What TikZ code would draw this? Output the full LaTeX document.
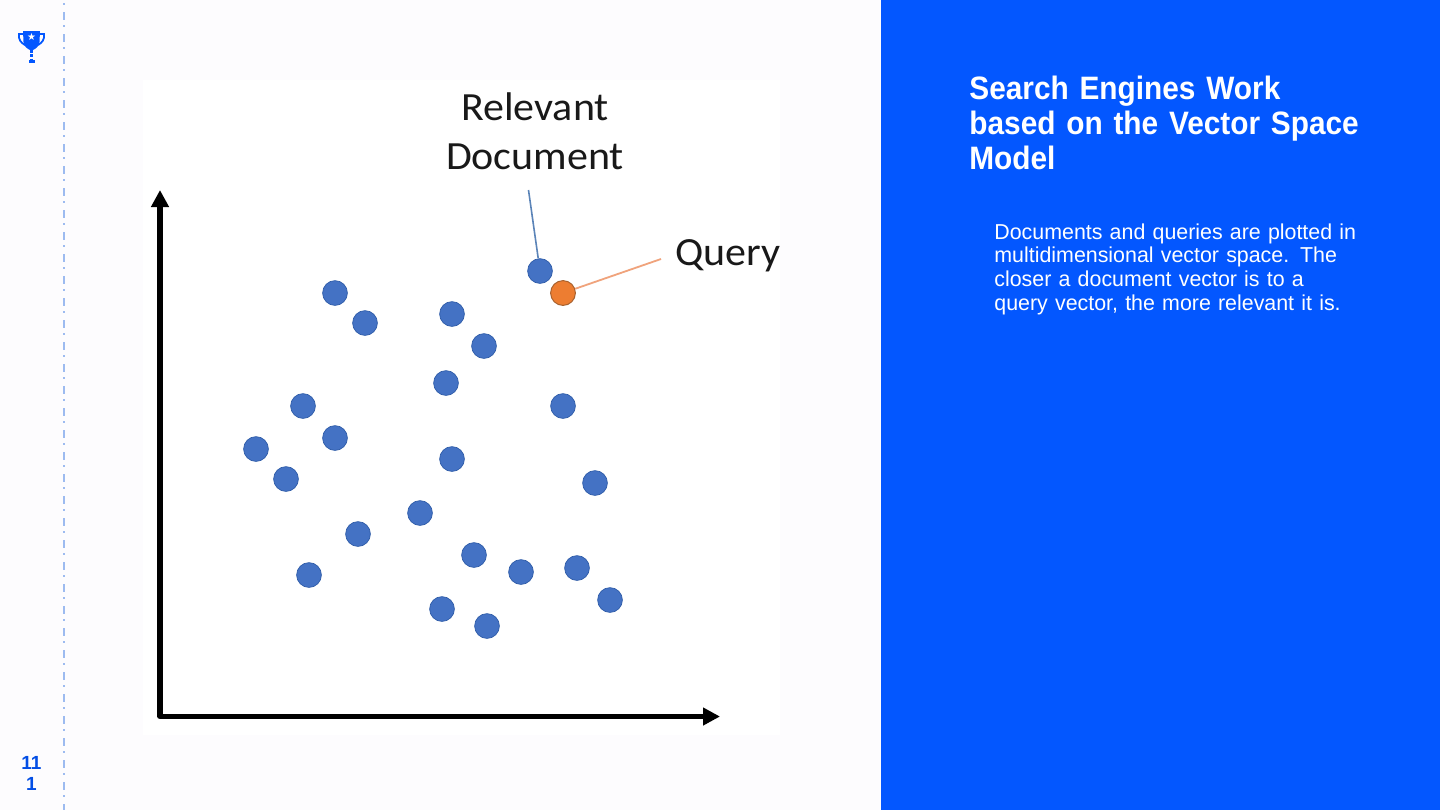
\documentclass[tikz,border=0pt]{standalone}
\usepackage{fontspec}
\setmainfont{Liberation Sans}
\newfontfamily\labelfont[FakeStretch=1.05]{Carlito}
\newfontfamily\titlefont[FakeStretch=0.92]{Liberation Sans}
\newfontfamily\bodyfont[FakeStretch=0.99]{Liberation Sans}
\newfontfamily\symfont{DejaVu Sans}
\usetikzlibrary{arrows.meta}
\definecolor{pagebg}{HTML}{FDFCFE}
\definecolor{panel}{HTML}{0357FF}
\definecolor{dotblue}{HTML}{4472C4}
\definecolor{dotedge}{HTML}{2F5CA8}
\definecolor{dotorange}{HTML}{ED7D31}
\definecolor{orangeedge}{HTML}{A8622F}
\definecolor{railblue}{HTML}{9DBBF0}
\definecolor{leaderblue}{HTML}{5B84B8}
\definecolor{leaderorange}{HTML}{F0A37C}
\tikzset{
  doc/.style={circle,fill=dotblue,draw=dotedge,line width=0.35pt,minimum size=12.4pt,inner sep=0pt},
  qry/.style={circle,fill=dotorange,draw=orangeedge,line width=0.5pt,minimum size=12.4pt,inner sep=0pt},
  axis/.style={line width=2.6pt,black,-{Triangle[length=8.5pt,width=8.5pt]}},
  plotlabel/.style={font=\labelfont\fontsize{20}{24.5}\selectfont,text=black!90,align=center,inner sep=0pt},
  titletext/.style={font=\titlefont\bfseries\fontsize{16.2}{17.5}\selectfont,text=white,align=left,anchor=north west,inner sep=0pt,text width=215pt},
  bodytext/.style={font=\bodyfont\fontsize{10.8}{11.85}\selectfont,text=white,align=left,anchor=north west,inner sep=0pt,text width=200pt},
  pagenum/.style={font=\bfseries\fontsize{9.5}{10.5}\selectfont,text=panel!90!black,align=center,inner sep=0pt},
}
\begin{document}
\begin{tikzpicture}[x=0.5pt,y=-0.5pt]
\useasboundingbox (0,0) rectangle (1440,810);
\fill[pagebg] (0,0) rectangle (1440,810);
\fill[white] (143,80) rectangle (780,735);
\fill[panel] (881,0) rectangle (1440,810);
% rail
\draw[railblue,line width=1.2pt,dash pattern=on 1pt off 3.5pt on 4pt off 2.5pt] (64,3) -- (64,810);
% trophy
\fill[panel] (23,31) -- (40,31) -- (39.5,42) .. controls (39,47) and (35,49) .. (33,50) -- (30,50) .. controls (28,49) and (24,47) .. (23.5,42) -- cycle;
\draw[panel,line width=0.9pt] (23,34) -- (19,34) .. controls (18,39) and (21,43) .. (25,45);
\draw[panel,line width=0.9pt] (40,34) -- (44,34) .. controls (45,39) and (42,43) .. (38,45);
\draw[panel,line width=1.2pt,dash pattern=on 1.4pt off 0.8pt] (31.5,50) -- (31.5,60);
\fill[panel] (28.5,60) rectangle (34.5,63);
\node[font=\symfont\fontsize{5}{5}\selectfont,text=white,inner sep=0pt] (star) at (31.5,36.5) {★};
% page number
\node[pagenum] (num) at (31.5,773) {11\\1};
% axes
\coordinate (origin) at (160,716.5);
\coordinate (ytip) at (160,190);
\coordinate (xtip) at (720,716.5);
\draw[line width=2.6pt,line cap=round,black,line join=round] (160,205) -- (origin) -- (705,716.5);
\draw[axis] (origin) -- (ytip);
\draw[axis] (origin) -- (xtip);
% documents
\foreach \n/\x/\y in {a/335/293,b/365/323,c/452/314,d/484/346,e/446/383,f/563/406,g/303/406,h/335/438,i/256/449,j/286/479,k/452/459,l/595/483,m/420/513,n/358/534,o/474/555,p/521/572,q/577/568,r/610/600,s/309/575,t/442/609,u/487/626}
  \node[doc] (\n) at (\x,\y) {};
\node[doc] (rel) at (540,271) {};
\node[qry] (qry) at (563,293) {};
% labels
\node[plotlabel] (reltext) at (535,131) {Relevant\\Document};
\node[plotlabel,anchor=west] (qtext) at (675,256) {Query};
\coordinate (relend) at (528.5,190);
\coordinate (qend) at (661,259);
\draw[leaderblue,line width=0.8pt] (relend) -- (rel);
\draw[leaderorange,line width=0.9pt] (qend) -- (qry);
% right panel
\node[titletext] (title) at (969,76) {Search Engines Work\\based on the Vector Space\\Model};
\node[bodytext] (body) at (994,223) {Documents and queries are plotted in\\multidimensional vector space. The\\closer a document vector is to a\\query vector, the more relevant it is.};
\end{tikzpicture}
\end{document}
